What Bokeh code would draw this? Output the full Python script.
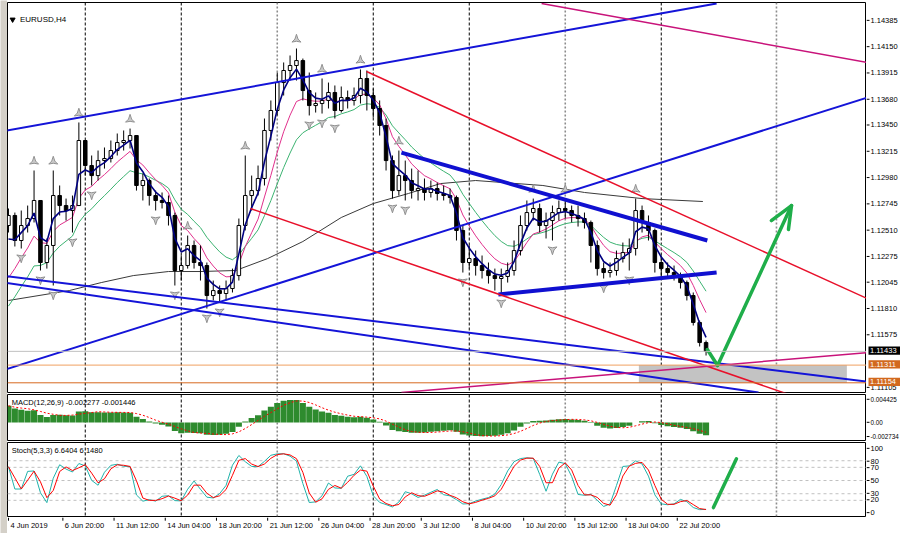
import numpy as np
import pandas as pd
from bokeh.plotting import figure
from bokeh.layouts import column, row
from bokeh.models import Range1d, Span
from bokeh.embed import file_html
from bokeh.resources import INLINE
from bokeh.core.properties import value

FONT = "Liberation Sans"

# ---------------- data ----------------
SYMBOL_TITLE = "EURUSD,H4"
MACD_TEXT = "MACD(12,26,9) -0.002277 -0.001446"
STOCH_TEXT = "Stoch(5,3,3) 6.6404 6.1480"

# one candle per two H4 bars, x = H4 bar number counted from 4 Jun 2019 00:00
BAR_H4_INDEX = list(range(0, 220, 2))
FIRST_OPEN = 1.12549
CLOSE = [
    1.12638, 1.12416, 1.12549, 1.12611, 1.12771, 1.12221, 1.12372, 1.12815, 1.12726, 1.12682,
    1.12726, 1.13303, 1.13081, 1.12992, 1.13125, 1.13143, 1.13214, 1.13285, 1.13303, 1.13347,
    1.12904, 1.12948, 1.12815, 1.12771, 1.12753, 1.12638, 1.12150, 1.12194, 1.12372, 1.12221,
    1.12194, 1.11928, 1.11972, 1.11946, 1.11990, 1.12105, 1.12549, 1.12815, 1.12859, 1.12966,
    1.13392, 1.13569, 1.13817, 1.13924, 1.13968, 1.14012, 1.13746, 1.13613, 1.13631, 1.13658,
    1.13729, 1.13569, 1.13684, 1.13658, 1.13702, 1.13853, 1.13702, 1.13587, 1.13436, 1.13125,
    1.12859, 1.12992, 1.12948, 1.12859, 1.12877, 1.12842, 1.12877, 1.12833, 1.12815, 1.12797,
    1.12505, 1.12221, 1.12256, 1.12194, 1.12150, 1.12105, 1.12079, 1.12097, 1.12150, 1.12327,
    1.12549, 1.12664, 1.12700, 1.12549, 1.12593, 1.12664, 1.12700, 1.12682, 1.12638, 1.12611,
    1.12576, 1.12372, 1.12167, 1.12132, 1.12150, 1.12256, 1.12309, 1.12345, 1.12682, 1.12576,
    1.12505, 1.12221, 1.12167, 1.12132, 1.12105, 1.12043, 1.11928, 1.11689, 1.11511, 1.11433,
]
HIGH = [
    1.12700, 1.12664, 1.12682, 1.12726, 1.13037, 1.12771, 1.12434, 1.13037, 1.12904, 1.12788,
    1.12815, 1.13463, 1.13303, 1.13170, 1.13214, 1.13241, 1.13303, 1.13365, 1.13392, 1.13409,
    1.13347, 1.13010, 1.12966, 1.12859, 1.12842, 1.12815, 1.12664, 1.12283, 1.12460, 1.12416,
    1.12372, 1.12221, 1.12061, 1.12017, 1.12061, 1.12167, 1.12611, 1.13170, 1.12992, 1.13081,
    1.13498, 1.13658, 1.13906, 1.13995, 1.14057, 1.14119, 1.14030, 1.13906, 1.13729, 1.13853,
    1.13817, 1.13791, 1.13782, 1.13746, 1.13773, 1.13933, 1.13924, 1.13764, 1.13658, 1.13498,
    1.13170, 1.13214, 1.13125, 1.13054, 1.13037, 1.12966, 1.12948, 1.12930, 1.12904, 1.12877,
    1.12815, 1.12549, 1.12372, 1.12327, 1.12283, 1.12221, 1.12167, 1.12167, 1.12221, 1.12416,
    1.12638, 1.12771, 1.12788, 1.12744, 1.12664, 1.12726, 1.12771, 1.12788, 1.12726, 1.12726,
    1.12664, 1.12593, 1.12416, 1.12221, 1.12221, 1.12327, 1.12398, 1.12434, 1.12788, 1.12726,
    1.12638, 1.12522, 1.12283, 1.12221, 1.12194, 1.12132, 1.12061, 1.11955, 1.11706, 1.11529,
]
LOW = [
    1.12487, 1.12363, 1.12345, 1.12487, 1.12576, 1.12150, 1.12167, 1.12017, 1.12638, 1.12593,
    1.12487, 1.12726, 1.12992, 1.12904, 1.12948, 1.13054, 1.13108, 1.13170, 1.13214, 1.13232,
    1.12859, 1.12771, 1.12726, 1.12682, 1.12700, 1.12549, 1.12017, 1.12061, 1.12167, 1.12167,
    1.12061, 1.11813, 1.11884, 1.11866, 1.11884, 1.11955, 1.12061, 1.12505, 1.12682, 1.12815,
    1.12904, 1.13303, 1.13525, 1.13702, 1.13835, 1.13835, 1.13658, 1.13525, 1.13551, 1.13542,
    1.13587, 1.13498, 1.13551, 1.13587, 1.13613, 1.13631, 1.13569, 1.13507, 1.13347, 1.13037,
    1.12788, 1.12815, 1.12771, 1.12788, 1.12771, 1.12771, 1.12797, 1.12771, 1.12771, 1.12744,
    1.12416, 1.12132, 1.12167, 1.12105, 1.12079, 1.12034, 1.11972, 1.11946, 1.12043, 1.12105,
    1.12283, 1.12505, 1.12593, 1.12487, 1.12434, 1.12416, 1.12593, 1.12611, 1.12576, 1.12540,
    1.12522, 1.12221, 1.12105, 1.12079, 1.12088, 1.12105, 1.12221, 1.12150, 1.12283, 1.12487,
    1.12416, 1.12132, 1.12088, 1.12079, 1.12061, 1.11990, 1.11884, 1.11662, 1.11476, 1.11396,
]

# long (dark grey) moving average, read as points
LONG_MA_INDEX = [0, 19, 29, 39, 50, 60, 71, 81, 92, 104, 114, 125, 135, 146, 167, 180, 198, 217]
LONG_MA_VALUE = [1.11884, 1.11972, 1.12043, 1.12105, 1.12141, 1.12141, 1.12150, 1.12256, 1.12407,
                 1.12620, 1.12744, 1.12833, 1.12921, 1.12948, 1.12904, 1.12842, 1.12788, 1.12762]
# starting levels of the moving averages / MACD EMAs at the left edge
MA_START_FAST, MA_START_MID, MA_START_SLOW = 1.1222, 1.1190, 1.1170
MACD_START_FAST, MACD_START_SLOW = 1.1240, 1.1208

PRICE_TICKS = [1.14385, 1.14150, 1.13915, 1.13680, 1.13450, 1.13215, 1.12980, 1.12745,
               1.12510, 1.12275, 1.12045, 1.11810, 1.11575, 1.11105]
PRICE_TICK_TEXT = ["1.14385", "1.14150", "1.13915", "1.13680", "1.13450", "1.13215", "1.12980",
                   "1.12745", "1.12510", "1.12275", "1.12045", "1.11810", "1.11575", "1.11105"]
MACD_TICKS = [0.004425, 0.0, -0.002734]
MACD_TICK_TEXT = ["0.004425", "0.00", "-0.002734"]
STOCH_TICKS = [100, 80, 70, 50, 30, 20, 0]
STOCH_TICK_TEXT = ["100", "80", "70", "50", "30", "20", "0"]
STOCH_LEVELS = [80, 70, 50, 30, 20]

DATE_LABELS = ["4 Jun 2019", "6 Jun 20:00", "11 Jun 12:00", "14 Jun 04:00", "18 Jun 20:00",
               "21 Jun 12:00", "26 Jun 04:00", "28 Jun 20:00", "3 Jul 12:00", "8 Jul 04:00",
               "10 Jul 20:00", "15 Jul 12:00", "18 Jul 04:00", "22 Jul 20:00"]
DATE_INDEX = [0, 17, 33, 49, 65, 81, 97, 113, 129, 145, 161, 177, 193, 209]

WEEK_LINES_BLACK = [24, 54, 114, 144, 204]
WEEK_LINES_GRAY = [84, 174, 240]

BID = 1.11433
LEVEL_UPPER = 1.11311
LEVEL_LOWER = 1.11154
ZONE_LEFT, ZONE_RIGHT = 197, 262
PRICE_TAGS = [("1.11433", BID, "black"), ("1.11311", LEVEL_UPPER, "#d2691e"),
              ("1.11154", LEVEL_LOWER, "#d2691e")]

# trend lines: (index0, price0, index1, price1)
BLUE_LINES = [(-1, 1.13389, 221.3, 1.14518), (-1, 1.11271, 268.4, 1.13684),
              (-1, 1.12101, 268.4, 1.11165), (-1, 1.12041, 234.4, 1.11068)]
BLUE_THICK_LINES = [(122.8, 1.13196, 218.4, 1.12416), (153.1, 1.11937, 221.3, 1.12132)]
RED_LINES = [(111.9, 1.13915, 268.4, 1.11901), (75.6, 1.12700, 268.4, 1.10810)]
MAGENTA_LINES = [(166.6, 1.14518, 268.4, 1.13995), (122.8, 1.11068, 268.4, 1.11422)]

ARROW_PATH_INDEX = [218.4, 221.6, 244.7]
ARROW_PATH_PRICE = [1.11449, 1.11307, 1.12726]
ARROW_HEAD_INDEX = [238.4, 244.7, 243.75]
ARROW_HEAD_PRICE = [1.12593, 1.12726, 1.12513]
STOCH_ARROW_INDEX = [220.3, 227.5]
STOCH_ARROW_VALUE = [9, 83]

# ---------------- derived series ----------------
x = np.array(BAR_H4_INDEX[:len(CLOSE)], dtype=float)
close = np.array(CLOSE)
high = np.array(HIGH)
low = np.array(LOW)
opn = np.concatenate([[FIRST_OPEN], close[:-1]])
up = close >= opn


def ema(series, n, start):
    a = 2.0 / (n + 1)
    out, v = [], start
    for s in series:
        v = v + a * (s - v)
        out.append(v)
    return np.array(out)


ma_fast = ema(close, 3, MA_START_FAST)
ma_mid = ema(close, 7, MA_START_MID)
ma_slow = ema(close, 13, MA_START_SLOW)

macd_main = ema(close, 6, MACD_START_FAST) - ema(close, 13, MACD_START_SLOW)
macd_signal = pd.Series(macd_main).rolling(4, min_periods=1).mean().values

hh = pd.Series(high).rolling(3, min_periods=1).max()
ll = pd.Series(low).rolling(3, min_periods=1).min()
num = (pd.Series(close) - ll).rolling(2, min_periods=1).sum()
den = (hh - ll).rolling(2, min_periods=1).sum()
stoch_k = (100 * num / den).values
stoch_d = pd.Series(stoch_k).rolling(2, min_periods=1).mean().values

nb = len(close)
frac_up = [k for k in range(1, nb - 1) if high[k] > max(high[k - 1], high[k + 1])]
frac_dn = [k for k in range(1, nb - 1) if low[k] < min(low[k - 1], low[k + 1])]

# ---------------- figures ----------------
FRAME_W = 859
AXIS_W = 34
xr = Range1d(-0.3, -0.3 + FRAME_W / 3.2)


def make_fig(h, yr, top, bottom):
    f = figure(width=FRAME_W, height=h, x_range=xr, y_range=yr, output_backend="svg",
               toolbar_location=None, x_axis_location=None, y_axis_location=None,
               min_border_left=0, min_border_right=0, min_border_top=top,
               min_border_bottom=bottom, outline_line_color="black", outline_line_width=1,
               background_fill_color="white", border_fill_color="white")
    f.xgrid.visible = False
    f.ygrid.visible = False
    for loc in WEEK_LINES_BLACK:
        f.add_layout(Span(location=loc, dimension="height", line_color="black",
                          line_dash="3 2", line_width=1, level="underlay"))
    for loc in WEEK_LINES_GRAY:
        f.add_layout(Span(location=loc, dimension="height", line_color="#8c8c8c",
                          line_dash="2 2", line_width=1.6, level="underlay"))
    return f


def make_axis(h, yr, top, bottom, ticks, texts, size="7.5px"):
    # the scale column uses its whole height as frame, so texts near the edges are not cut
    per_px = (yr.end - yr.start) / float(h - top - bottom)
    ya = Range1d(yr.start - bottom * per_px, yr.end + top * per_px)
    a = figure(width=AXIS_W, height=h, x_range=Range1d(0, AXIS_W), y_range=ya,
               output_backend="svg", toolbar_location=None, x_axis_location=None,
               y_axis_location=None, min_border=0, outline_line_color=None,
               background_fill_color="white", border_fill_color="white")
    a.xgrid.visible = False
    a.ygrid.visible = False
    n = len(ticks)
    a.segment(x0=[0] * n, y0=ticks, x1=[3] * n, y1=ticks, line_color="black", line_width=1)
    a.text([4.0] * n, ticks, text=texts, text_font=value(FONT), text_font_size=value(size),
           text_baseline="middle", text_align="left", text_color="black")
    return a, per_px


# ---- main price panel ----
yr_main = Range1d(1.11068, 1.14527)
pm = make_fig(393, yr_main, 2, 1)

pm.quad(left=[ZONE_LEFT], right=[ZONE_RIGHT], top=[LEVEL_UPPER], bottom=[LEVEL_LOWER],
        fill_color="#c3c3c3", line_color=None)

pm.line(LONG_MA_INDEX, LONG_MA_VALUE, line_color="#3a3a3a", line_width=1)
pm.line(x, ma_slow, line_color="#3cb371", line_width=1)
pm.line(x, ma_mid, line_color="#e0308c", line_width=1)

pm.segment(x0=x, y0=low, x1=x, y1=high, line_color="black", line_width=1)
pm.vbar(x=x[up], width=1.1, top=close[up], bottom=opn[up], fill_color="white",
        line_color="black", line_width=1)
pm.vbar(x=x[~up], width=1.1, top=opn[~up], bottom=close[~up], fill_color="black",
        line_color="black", line_width=1)

pm.line(x, ma_fast, line_color="#000080", line_width=1.6)

pm.scatter(x[frac_up], high[frac_up] + 0.0008, marker="triangle_pin", size=9,
           fill_color="#cacaca", line_color="#909090")
pm.scatter(x[frac_dn], low[frac_dn] - 0.0008, marker="triangle_pin", angle=np.pi, size=9,
           fill_color="#cacaca", line_color="#909090")


def draw_lines(lines, color, width):
    pm.segment(x0=[l[0] for l in lines], y0=[l[1] for l in lines],
               x1=[l[2] for l in lines], y1=[l[3] for l in lines],
               line_color=color, line_width=width)


draw_lines(BLUE_LINES, "#1414d8", 2)
draw_lines(BLUE_THICK_LINES, "#1010d0", 4)
draw_lines(RED_LINES, "#e8102a", 1.5)
draw_lines(MAGENTA_LINES, "#c8137a", 1.5)

pm.add_layout(Span(location=BID, dimension="width", line_color="#c0c0c0", line_width=1))
pm.add_layout(Span(location=LEVEL_UPPER, dimension="width", line_color="#f0a060", line_width=1))
pm.add_layout(Span(location=LEVEL_LOWER, dimension="width", line_color="#d86a20", line_width=1))

pm.line(ARROW_PATH_INDEX, ARROW_PATH_PRICE, line_color="#1fae4a", line_width=3.5,
        line_cap="round", line_join="round")
pm.line(ARROW_HEAD_INDEX, ARROW_HEAD_PRICE, line_color="#1fae4a", line_width=3.5,
        line_cap="round", line_join="round")

pm.scatter([1.3], [1.14376], marker="inverted_triangle", size=5, fill_color="black",
           line_color="black")
pm.text([3.6], [1.14372], text=[SYMBOL_TITLE], text_font=value(FONT),
        text_font_size=value("8px"), text_baseline="middle", text_align="left",
        text_color="black")

am, main_px = make_axis(393, yr_main, 2, 1, PRICE_TICKS, PRICE_TICK_TEXT)
half = 4.2 * main_px
for txt, price, bg in PRICE_TAGS:
    am.quad(left=[2], right=[AXIS_W], top=[price + half], bottom=[price - half],
            fill_color=bg, line_color=None)
    am.text([3.5], [price], text=[txt], text_font=value(FONT), text_font_size=value("7.5px"),
            text_baseline="middle", text_align="left", text_color="white")

# ---- MACD panel ----
yr_macd = Range1d(-0.003312, 0.005162)
pmacd = make_fig(48, yr_macd, 1, 1)
pmacd.vbar(x=x, width=1.9, top=macd_main, bottom=0, fill_color="#2e8b2e", line_color=None)
pmacd.line(x, macd_signal, line_color="#ff0000", line_dash="2 2", line_width=1)
pmacd.text([1.0], [0.00369], text=[MACD_TEXT], text_font=value(FONT),
           text_font_size=value("7.5px"), text_baseline="middle", text_align="left",
           text_color="black")
amacd, _ = make_axis(48, yr_macd, 1, 1, MACD_TICKS, MACD_TICK_TEXT, size="6.3px")

# ---- Stochastic panel ----
yr_st = Range1d(-4.5, 107.6)
pst = make_fig(76, yr_st, 1, 1)
for lv in STOCH_LEVELS:
    pst.add_layout(Span(location=lv, dimension="width", line_color="#c0c0c0",
                        line_dash="3 3", line_width=1, level="underlay"))
pst.line(x, stoch_k, line_color="#20b2aa", line_width=1)
pst.line(x, stoch_d, line_color="#ff0000", line_width=1)
pst.line(STOCH_ARROW_INDEX, STOCH_ARROW_VALUE, line_color="#1fae4a", line_width=3.5,
         line_cap="round")
pst.text([1.0], [95.5], text=[STOCH_TEXT], text_font=value(FONT),
         text_font_size=value("7.5px"), text_baseline="middle", text_align="left",
         text_color="black")
ast, _ = make_axis(76, yr_st, 1, 1, STOCH_TICKS, STOCH_TICK_TEXT)

# ---- time labels ----
pt = figure(width=FRAME_W + AXIS_W, height=16, x_range=xr, y_range=Range1d(0, 1),
            output_backend="svg", toolbar_location=None, x_axis_location=None,
            y_axis_location=None, min_border_left=0, min_border_right=AXIS_W,
            min_border_top=0, min_border_bottom=0, outline_line_color=None)
pt.xgrid.visible = False
pt.ygrid.visible = False
pt.segment(x0=DATE_INDEX, y0=[1.0] * len(DATE_INDEX), x1=DATE_INDEX,
           y1=[0.8] * len(DATE_INDEX), line_color="black", line_width=1)
pt.text(DATE_INDEX, [0.47] * len(DATE_INDEX), text=DATE_LABELS, x_offset=2,
        text_font=value(FONT), text_font_size=value("7.5px"), text_baseline="middle",
        text_align="left", text_color="black")

# ---- window frame strips ----
left_strip = figure(width=7, height=533, output_backend="svg", toolbar_location=None,
                    x_axis_location=None, y_axis_location=None, min_border=0,
                    outline_line_color=None, background_fill_color="#d4d0c8",
                    border_fill_color="#d4d0c8")
left_strip.xgrid.visible = False
left_strip.ygrid.visible = False
bottom_strip = figure(width=900, height=6, output_backend="svg", toolbar_location=None,
                      x_axis_location=None, y_axis_location=None, min_border=0,
                      outline_line_color=None, background_fill_color="#d4d0c8",
                      border_fill_color="#d4d0c8")
bottom_strip.xgrid.visible = False
bottom_strip.ygrid.visible = False

charts = column(row(pm, am, spacing=0), row(pmacd, amacd, spacing=0),
                row(pst, ast, spacing=0), pt, spacing=0)
layout = column(row(left_strip, charts, spacing=0), bottom_strip, spacing=0)
open("out.html", "w").write(file_html(layout, INLINE))
